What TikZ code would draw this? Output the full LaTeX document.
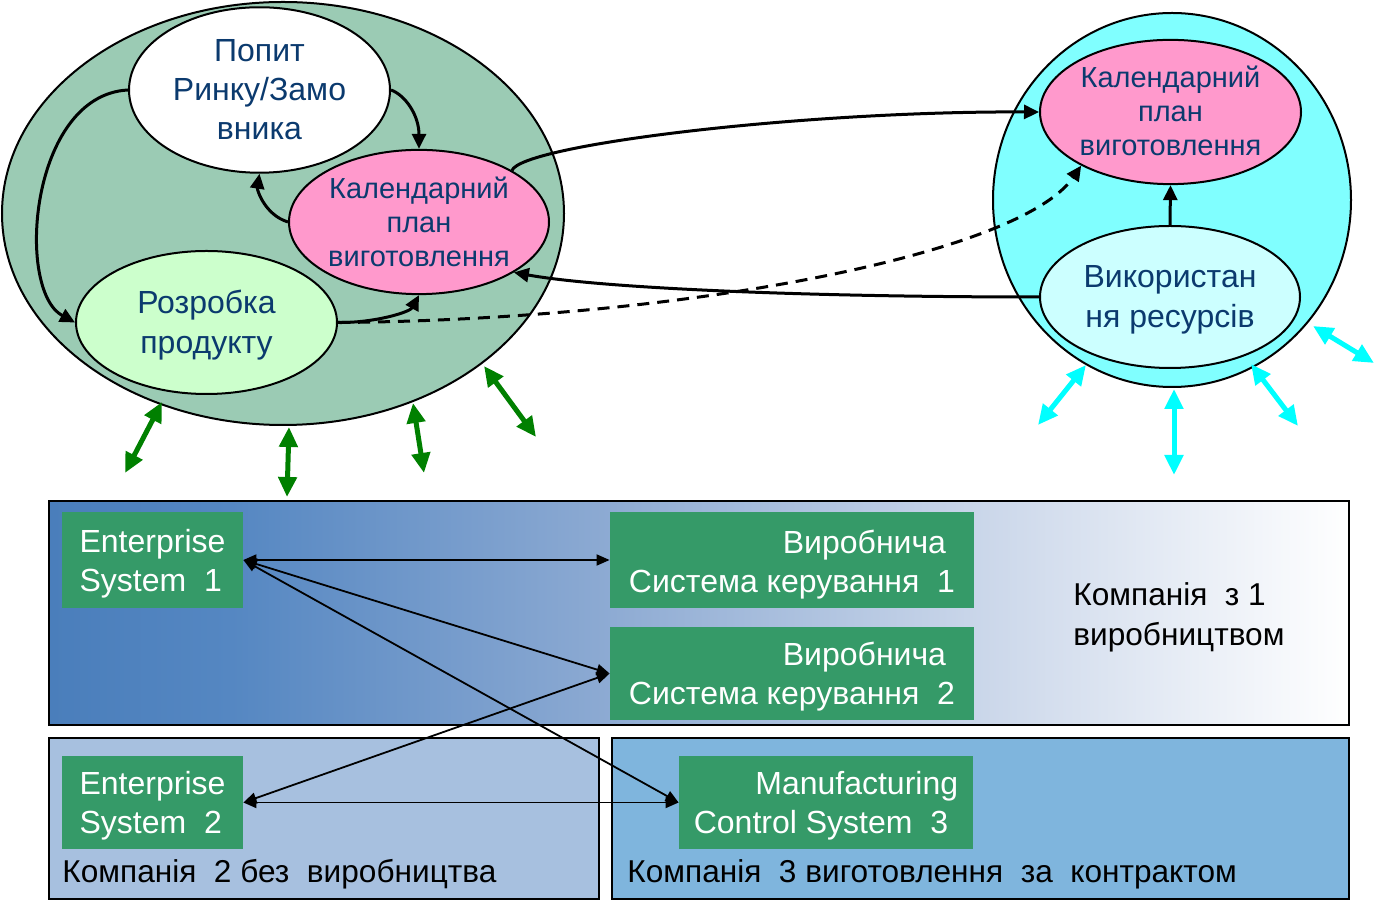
\documentclass[tikz,border=0pt]{standalone}
\usepackage{fontspec}
\setmainfont{Liberation Sans}
\usetikzlibrary{arrows.meta,shapes.geometric}

\definecolor{bigG}{HTML}{9BCBB4}
\definecolor{pinkE}{HTML}{FF99CC}
\definecolor{devG}{HTML}{CCFFCC}
\definecolor{cyanC}{HTML}{80FFFF}
\definecolor{resC}{HTML}{CCFFFF}
\definecolor{txtblue}{HTML}{0B3A6E}
\definecolor{arrgreen}{HTML}{008000}
\definecolor{arrcyan}{HTML}{00FFFF}
\definecolor{boxgreen}{HTML}{359A68}
\definecolor{gradA}{HTML}{4A7EBB}
\definecolor{gradB}{HTML}{5587C2}
\definecolor{gradC}{HTML}{8BA9D2}
\definecolor{gradD}{HTML}{CBD7EA}
\definecolor{leftR}{HTML}{A7C0DF}
\definecolor{rightR}{HTML}{7FB5DD}

\pgfdeclarehorizontalshading{topgrad}{100bp}{color(0bp)=(gradA); color(25bp)=(gradA); color(32bp)=(gradB); color(46bp)=(gradC); color(61bp)=(gradD); color(75bp)=(white); color(100bp)=(white)}

% text block lowered by #1, column type #2, lines #3
\newcommand{\lowtxt}[3]{\raisebox{-#1}[\height][\depth]{\begin{tabular}{@{}#2@{}}#3\end{tabular}}}

\tikzset{
  ell/.style={ellipse, draw=black, line width=1pt, inner sep=0pt, text=txtblue},
  arr/.style={line width=1.5pt, -{Triangle[length=7.5pt,width=7pt]}},
  garr/.style={line width=2.5pt, draw=arrgreen, {Triangle[length=10pt,width=9pt]}-{Triangle[length=10pt,width=9pt]}},
  carr/.style={line width=2.5pt, draw=arrcyan, {Triangle[length=10pt,width=9pt]}-{Triangle[length=10pt,width=9pt]}},
  gbox/.style={rectangle, fill=boxgreen, text=white, inner sep=0pt, font=\fontsize{16}{19.5}\selectfont},
  link/.style={line width=0.9pt, {Triangle[length=6.5pt,width=5.5pt]}-{Triangle[length=6.5pt,width=5.5pt]}},
  comp/.style={inner sep=0pt, text=black, font=\fontsize{15.8}{20}\selectfont},
  frame/.style={draw=black, line width=1.3pt}
}

\begin{document}
\begin{tikzpicture}[x=0.5pt,y=-0.5pt]
\useasboundingbox (0,0) rectangle (1393,913);

% ---------- left group ----------
\node[ell, fill=bigG, minimum width=281pt, minimum height=211.5pt] (big) at (283,213.5) {};
\node[ell, fill=white, minimum width=130.5pt, minimum height=72pt, font=\fontsize{16}{19.5}\selectfont] (demand) at (259.5,90) {\lowtxt{1.5pt}{c}{Попит\\Ринку/Замо\\вника}};
\node[ell, fill=pinkE, minimum width=130pt, minimum height=72pt, font=\fontsize{14.5}{17}\selectfont] (planL) at (419,222) {\lowtxt{1.75pt}{c}{Календарний\\план\\виготовлення}};
\node[ell, fill=devG, minimum width=130.5pt, minimum height=71.5pt, font=\fontsize{16}{20}\selectfont] (dev) at (206.5,322.5) {\lowtxt{1.5pt}{c}{Розробка\\продукту}};

% ---------- right group ----------
\node[ell, fill=cyanC, minimum width=179pt, minimum height=187pt] (circ) at (1172,200) {};
\node[ell, fill=pinkE, minimum width=130.5pt, minimum height=71pt, font=\fontsize{14.5}{17}\selectfont] (planR) at (1170.5,112) {\lowtxt{1.4pt}{c}{Календарний\\план\\виготовлення}};
\node[ell, fill=resC, minimum width=130pt, minimum height=71pt, font=\fontsize{16}{20}\selectfont] (res) at (1170,297) {\lowtxt{1.2pt}{c}{Використан\\ня ресурсів}};

% ---------- arrows inside ellipses ----------
\draw[arr] (demand.west) .. controls (30,95) and (15,290) .. (dev.west);
\draw[arr] (demand.east) .. controls (405,95) and (419,115) .. (planL.north);
\draw[arr] (planL.west) .. controls (265,215) and (257,190) .. (demand.south);
\draw[arr] (dev.east) .. controls (375,323) and (410,312) .. (planL.south);
\draw[arr] (res.north) -- (planR.south);

% ---------- long connectors ----------
\draw[arr] (planL.29) .. controls (522,145) and (800,111) .. (planR.west);
\draw[arr] (res.west) .. controls (800,297) and (600,288) .. (planL.-28);
\draw[arr, dash pattern=on 6pt off 4pt] (dev.east) .. controls (680,320) and (1020,255) .. (planR.211);

% ---------- green arrows ----------
\coordinate (g1a) at (162,402); \coordinate (g1b) at (125,473);
\coordinate (g2a) at (289,427); \coordinate (g2b) at (287,497);
\coordinate (g3a) at (413,403); \coordinate (g3b) at (424,473);
\coordinate (g4a) at (484,366); \coordinate (g4b) at (536,437);
\draw[garr] (g1a) -- (g1b);
\draw[garr] (g2a) -- (g2b);
\draw[garr] (g3a) -- (g3b);
\draw[garr] (g4a) -- (g4b);

% ---------- cyan arrows ----------
\coordinate (c1a) at (1086,365); \coordinate (c1b) at (1038,425);
\coordinate (c2a) at (1174,389); \coordinate (c2b) at (1174,475);
\coordinate (c3a) at (1251,364); \coordinate (c3b) at (1298,426);
\coordinate (c4a) at (1313,326); \coordinate (c4b) at (1374,363);
\draw[carr] (c1a) -- (c1b);
\draw[carr] (c2a) -- (c2b);
\draw[carr] (c3a) -- (c3b);
\draw[carr] (c4a) -- (c4b);

% ---------- company frames ----------
\path[frame, shading=topgrad] (49,501) rectangle (1349,725);
\path[frame, fill=leftR] (49,738) rectangle (599,899);
\path[frame, fill=rightR] (612,738) rectangle (1349,899);

% ---------- system boxes ----------
\node[gbox, minimum width=90.5pt, minimum height=48pt] (es1) at (152.5,560) {\lowtxt{2pt}{l}{Enterprise\\System~~1}};
\node[gbox, minimum width=182pt, minimum height=48pt] (mcs1) at (792,560) {\lowtxt{2.4pt}{r}{Виробнича\hspace*{4.5pt}\\Система керування~~1}};
\node[gbox, minimum width=182pt, minimum height=46.5pt] (mcs2) at (792,673.5) {\lowtxt{2pt}{r}{Виробнича\hspace*{4.5pt}\\Система керування~~2}};
\node[gbox, minimum width=90.5pt, minimum height=46.5pt] (es2) at (152.5,802.5) {\lowtxt{2pt}{l}{Enterprise\\System~~2}};
\node[gbox, minimum width=147pt, minimum height=46.5pt] (mcs3) at (826,802.5) {\lowtxt{2pt}{r}{Manufacturing\\Control System~~3\hspace*{5pt}}};

% ---------- company labels ----------
\node[comp, anchor=west] (c1) at (1073,618) {\lowtxt{0pt}{l}{Компанія~~з 1\\виробництвом}};
\node[comp, anchor=west] (c2) at (62,875) {\lowtxt{0pt}{l}{Компанія~~2 без~~виробництва}};
\node[comp, anchor=west] (c3) at (627,875) {\lowtxt{0pt}{l}{Компанія~~3 виготовлення~~за~~контрактом}};

% ---------- links ----------
\draw[link] (es1.east) -- (mcs1.west);
\draw[link] (es1.east) -- (mcs2.west);
\draw[link] (es1.east) -- (mcs3.west);
\draw[link] (es2.east) -- (mcs2.west);
\draw[link] (es2.east) -- (mcs3.west);
\end{tikzpicture}
\end{document}
